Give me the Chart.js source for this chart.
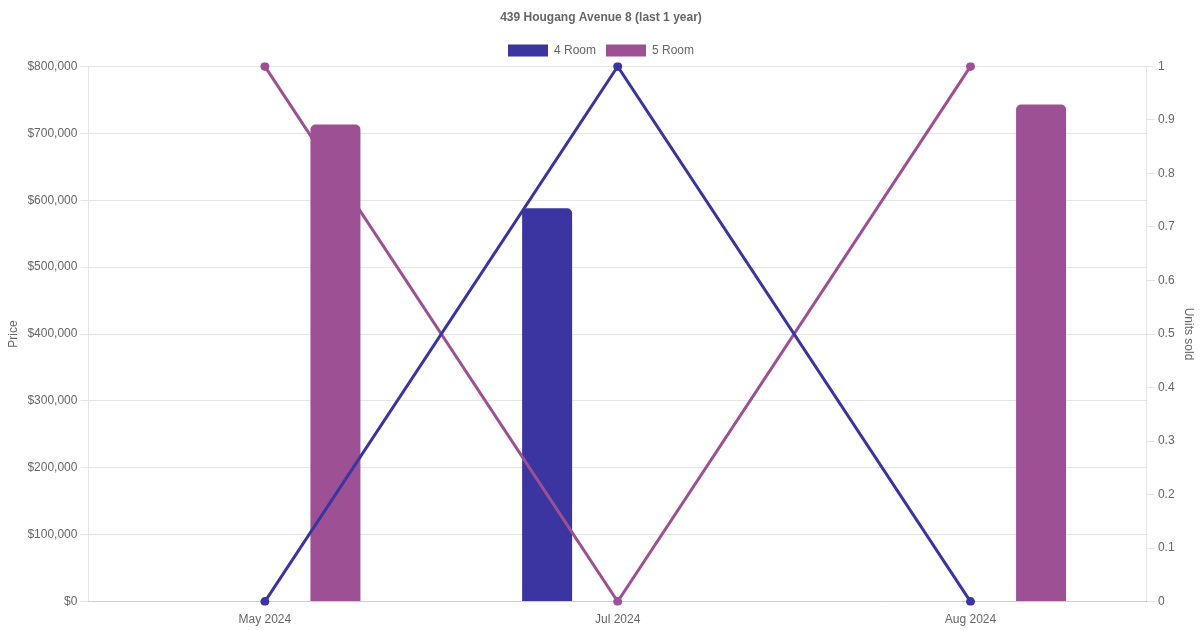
<!DOCTYPE html>
<html>
<head>
<meta charset="utf-8">
<script src="https://cdn.jsdelivr.net/npm/chart.js@4.4.1/dist/chart.umd.min.js"></script>
<style>
    html, body { margin: 0; padding: 0; background: #fff; }
    #wrap { width: 1200px; height: 630px; }
</style>
</head>
<body>
<div id="wrap"><canvas id="priceChart"></canvas></div>
<script>
const months = ['May 2024', 'Jul 2024', 'Aug 2024'];
const price_4room = [null, 588000, null];
const price_5room = [713000, null, 743000];
const units_4room = [0, 1, 0];
const units_5room = [1, 0, 1];

const color_4room = 'rgb(58, 53, 160)';
const color_5room = 'rgb(158, 80, 148)';

Chart.defaults.font.family = '"Liberation Sans", Arial, Helvetica, sans-serif';
Chart.defaults.color = '#666';

const ctx = document.getElementById('priceChart').getContext('2d');
const chart = new Chart(ctx, {
    type: 'bar',
    data: {
        labels: months,
        datasets: [{
            label: '4 Room',
            data: price_4room,
            backgroundColor: color_4room,
            borderRadius: 5,
            borderSkipped: 'bottom',
            maxBarThickness: 50,
            yAxisID: 'y',
            order: 2
        }, {
            label: '5 Room',
            data: price_5room,
            backgroundColor: color_5room,
            borderRadius: 5,
            borderSkipped: 'bottom',
            maxBarThickness: 50,
            yAxisID: 'y',
            order: 2
        }, {
            type: 'line',
            label: '4 Room units',
            data: units_4room,
            borderColor: color_4room,
            backgroundColor: color_4room,
            borderWidth: 3,
            pointRadius: 3,
            tension: 0,
            fill: false,
            clip: 4,
            yAxisID: 'y1',
            order: 1
        }, {
            type: 'line',
            label: '5 Room units',
            data: units_5room,
            borderColor: color_5room,
            backgroundColor: color_5room,
            borderWidth: 3,
            pointRadius: 3,
            tension: 0,
            fill: false,
            clip: 4,
            yAxisID: 'y1',
            order: 1
        }]
    },
    options: {
        responsive: true,
        maintainAspectRatio: false,
        animation: false,
        layout: {
            padding: { left: 2 }
        },
        plugins: {
            title: {
                display: true,
                text: '439 Hougang Avenue 8 (last 1 year)',
                font: { size: 12, weight: 'bold' },
                padding: { top: 10, bottom: 10 }
            },
            legend: {
                labels: {
                    filter: (item) => item.datasetIndex < 2
                }
            }
        },
        scales: {
            x: {
                grid: { display: false }
            },
            y: {
                position: 'left',
                min: 0,
                max: 800000,
                ticks: {
                    stepSize: 100000,
                    callback: (value) => '$' + value.toLocaleString('en-US')
                },
                title: { display: true, text: 'Price' }
            },
            y1: {
                position: 'right',
                min: 0,
                max: 1,
                ticks: {
                    stepSize: 0.1,
                    callback: (value) => String(Math.round(value * 10) / 10)
                },
                grid: { drawOnChartArea: false },
                title: { display: true, text: 'Units sold' }
            }
        }
    }
});
</script>
</body>
</html>
